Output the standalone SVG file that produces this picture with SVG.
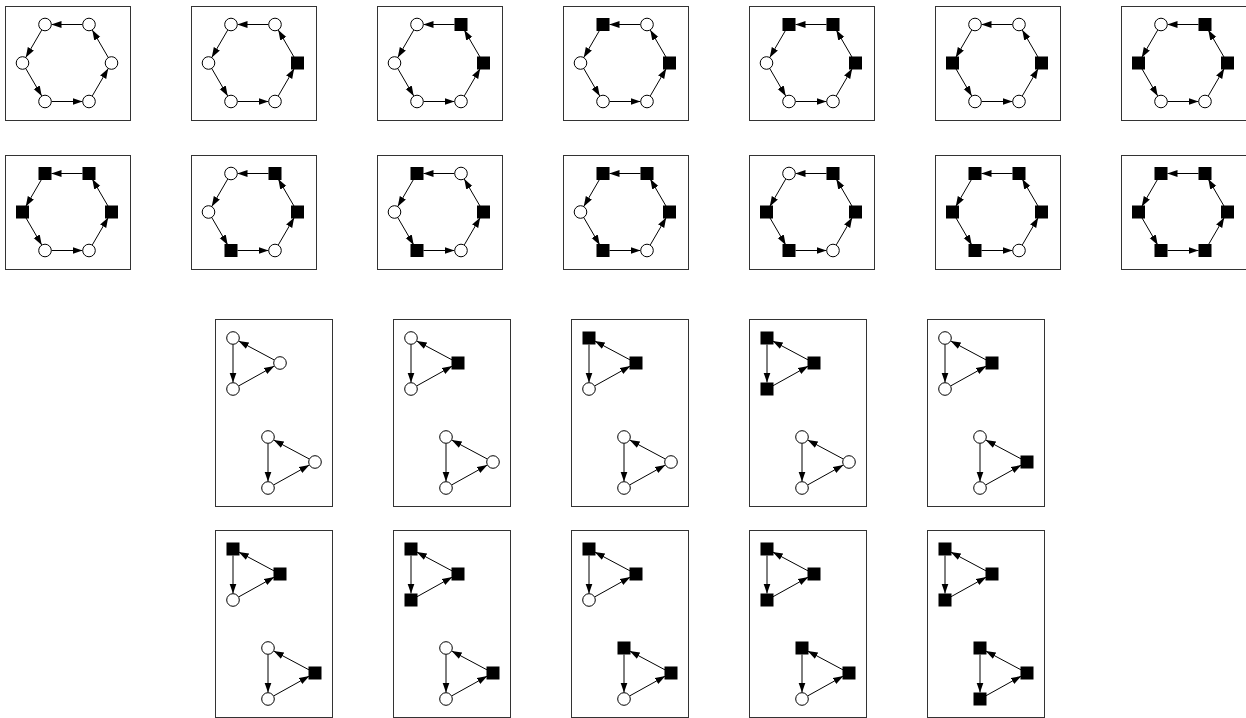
<svg xmlns="http://www.w3.org/2000/svg" xmlns:xlink="http://www.w3.org/1999/xlink" width="1246" height="718" viewBox="0 0 1246 718">
<style>
.box{fill:none;stroke:#333;stroke-width:1}
.e{stroke:#000;stroke-width:1;fill:none;marker-end:url(#ah)}
.cn{fill:#fff;stroke:#000;stroke-width:1}
.sq{fill:#000;stroke:none}
</style>
<defs>
<marker id="ah" markerUnits="userSpaceOnUse" markerWidth="10" markerHeight="8" refX="10" refY="4" orient="auto"><path d="M0,0.5 L10,4 L0,7.5 z" fill="#000"/></marker>
<circle id="c" class="cn" r="6.3"/>
<rect id="s" class="sq" x="-6.5" y="-6.5" width="13" height="13"/>
<g id="hexE">
<line class="e" x1="15.5" y1="-38.5" x2="-15.5" y2="-38.5"/>
<line class="e" x1="-25.3" y1="-32.9" x2="-41.2" y2="-5.6"/>
<line class="e" x1="-41.2" y1="5.6" x2="-25.3" y2="32.9"/>
<line class="e" x1="-15.5" y1="38.5" x2="15.5" y2="38.5"/>
<line class="e" x1="25.3" y1="32.9" x2="41.2" y2="5.6"/>
<line class="e" x1="41.2" y1="-5.6" x2="25.3" y2="-32.9"/>
</g>
<g id="triE">
<line class="e" x1="0" y1="6.5" x2="0" y2="44.5"/>
<line class="e" x1="5.7" y1="47.9" x2="41.3" y2="28.1"/>
<line class="e" x1="41.3" y1="22" x2="5.7" y2="3"/>
</g>
</defs>
<rect width="1246" height="718" fill="#fff"/>

<!-- ===== Row 1 hexagons ===== -->
<g id="h1" transform="translate(5,6)"><rect class="box" x="0.5" y="0.5" width="125" height="114"/><g transform="translate(62,57)">
<g class="connectors"><use href="#hexE"/></g>
<g id="h1-TL"><use href="#c" x="-22" y="-38.5"/></g><g id="h1-TR"><use href="#c" x="22" y="-38.5"/></g><g id="h1-R"><use href="#c" x="44.5" y="0"/></g><g id="h1-BR"><use href="#c" x="22" y="38.5"/></g><g id="h1-BL"><use href="#c" x="-22" y="38.5"/></g><g id="h1-L"><use href="#c" x="-44.5" y="0"/></g>
</g></g>
<g id="h2" transform="translate(191,6)"><rect class="box" x="0.5" y="0.5" width="125" height="114"/><g transform="translate(62,57)">
<g class="connectors"><use href="#hexE"/></g>
<g id="h2-TL"><use href="#c" x="-22" y="-38.5"/></g><g id="h2-TR"><use href="#c" x="22" y="-38.5"/></g><g id="h2-R"><use href="#s" x="44.5" y="0"/></g><g id="h2-BR"><use href="#c" x="22" y="38.5"/></g><g id="h2-BL"><use href="#c" x="-22" y="38.5"/></g><g id="h2-L"><use href="#c" x="-44.5" y="0"/></g>
</g></g>
<g id="h3" transform="translate(377,6)"><rect class="box" x="0.5" y="0.5" width="125" height="114"/><g transform="translate(62,57)">
<g class="connectors"><use href="#hexE"/></g>
<g id="h3-TL"><use href="#c" x="-22" y="-38.5"/></g><g id="h3-TR"><use href="#s" x="22" y="-38.5"/></g><g id="h3-R"><use href="#s" x="44.5" y="0"/></g><g id="h3-BR"><use href="#c" x="22" y="38.5"/></g><g id="h3-BL"><use href="#c" x="-22" y="38.5"/></g><g id="h3-L"><use href="#c" x="-44.5" y="0"/></g>
</g></g>
<g id="h4" transform="translate(563,6)"><rect class="box" x="0.5" y="0.5" width="125" height="114"/><g transform="translate(62,57)">
<g class="connectors"><use href="#hexE"/></g>
<g id="h4-TL"><use href="#s" x="-22" y="-38.5"/></g><g id="h4-TR"><use href="#c" x="22" y="-38.5"/></g><g id="h4-R"><use href="#s" x="44.5" y="0"/></g><g id="h4-BR"><use href="#c" x="22" y="38.5"/></g><g id="h4-BL"><use href="#c" x="-22" y="38.5"/></g><g id="h4-L"><use href="#c" x="-44.5" y="0"/></g>
</g></g>
<g id="h5" transform="translate(749,6)"><rect class="box" x="0.5" y="0.5" width="125" height="114"/><g transform="translate(62,57)">
<g class="connectors"><use href="#hexE"/></g>
<g id="h5-TL"><use href="#s" x="-22" y="-38.5"/></g><g id="h5-TR"><use href="#s" x="22" y="-38.5"/></g><g id="h5-R"><use href="#s" x="44.5" y="0"/></g><g id="h5-BR"><use href="#c" x="22" y="38.5"/></g><g id="h5-BL"><use href="#c" x="-22" y="38.5"/></g><g id="h5-L"><use href="#c" x="-44.5" y="0"/></g>
</g></g>
<g id="h6" transform="translate(935,6)"><rect class="box" x="0.5" y="0.5" width="125" height="114"/><g transform="translate(62,57)">
<g class="connectors"><use href="#hexE"/></g>
<g id="h6-TL"><use href="#c" x="-22" y="-38.5"/></g><g id="h6-TR"><use href="#c" x="22" y="-38.5"/></g><g id="h6-R"><use href="#s" x="44.5" y="0"/></g><g id="h6-BR"><use href="#c" x="22" y="38.5"/></g><g id="h6-BL"><use href="#c" x="-22" y="38.5"/></g><g id="h6-L"><use href="#s" x="-44.5" y="0"/></g>
</g></g>
<g id="h7" transform="translate(1121,6)"><rect class="box" x="0.5" y="0.5" width="125" height="114"/><g transform="translate(62,57)">
<g class="connectors"><use href="#hexE"/></g>
<g id="h7-TL"><use href="#c" x="-22" y="-38.5"/></g><g id="h7-TR"><use href="#s" x="22" y="-38.5"/></g><g id="h7-R"><use href="#s" x="44.5" y="0"/></g><g id="h7-BR"><use href="#c" x="22" y="38.5"/></g><g id="h7-BL"><use href="#c" x="-22" y="38.5"/></g><g id="h7-L"><use href="#s" x="-44.5" y="0"/></g>
</g></g>

<!-- ===== Row 2 hexagons ===== -->
<g id="h8" transform="translate(5,155)"><rect class="box" x="0.5" y="0.5" width="125" height="114"/><g transform="translate(62,57)">
<g class="connectors"><use href="#hexE"/></g>
<g id="h8-TL"><use href="#s" x="-22" y="-38.5"/></g><g id="h8-TR"><use href="#s" x="22" y="-38.5"/></g><g id="h8-R"><use href="#s" x="44.5" y="0"/></g><g id="h8-BR"><use href="#c" x="22" y="38.5"/></g><g id="h8-BL"><use href="#c" x="-22" y="38.5"/></g><g id="h8-L"><use href="#s" x="-44.5" y="0"/></g>
</g></g>
<g id="h9" transform="translate(191,155)"><rect class="box" x="0.5" y="0.5" width="125" height="114"/><g transform="translate(62,57)">
<g class="connectors"><use href="#hexE"/></g>
<g id="h9-TL"><use href="#c" x="-22" y="-38.5"/></g><g id="h9-TR"><use href="#s" x="22" y="-38.5"/></g><g id="h9-R"><use href="#s" x="44.5" y="0"/></g><g id="h9-BR"><use href="#c" x="22" y="38.5"/></g><g id="h9-BL"><use href="#s" x="-22" y="38.5"/></g><g id="h9-L"><use href="#c" x="-44.5" y="0"/></g>
</g></g>
<g id="h10" transform="translate(377,155)"><rect class="box" x="0.5" y="0.5" width="125" height="114"/><g transform="translate(62,57)">
<g class="connectors"><use href="#hexE"/></g>
<g id="h10-TL"><use href="#s" x="-22" y="-38.5"/></g><g id="h10-TR"><use href="#c" x="22" y="-38.5"/></g><g id="h10-R"><use href="#s" x="44.5" y="0"/></g><g id="h10-BR"><use href="#c" x="22" y="38.5"/></g><g id="h10-BL"><use href="#s" x="-22" y="38.5"/></g><g id="h10-L"><use href="#c" x="-44.5" y="0"/></g>
</g></g>
<g id="h11" transform="translate(563,155)"><rect class="box" x="0.5" y="0.5" width="125" height="114"/><g transform="translate(62,57)">
<g class="connectors"><use href="#hexE"/></g>
<g id="h11-TL"><use href="#s" x="-22" y="-38.5"/></g><g id="h11-TR"><use href="#s" x="22" y="-38.5"/></g><g id="h11-R"><use href="#s" x="44.5" y="0"/></g><g id="h11-BR"><use href="#c" x="22" y="38.5"/></g><g id="h11-BL"><use href="#s" x="-22" y="38.5"/></g><g id="h11-L"><use href="#c" x="-44.5" y="0"/></g>
</g></g>
<g id="h12" transform="translate(749,155)"><rect class="box" x="0.5" y="0.5" width="125" height="114"/><g transform="translate(62,57)">
<g class="connectors"><use href="#hexE"/></g>
<g id="h12-TL"><use href="#c" x="-22" y="-38.5"/></g><g id="h12-TR"><use href="#s" x="22" y="-38.5"/></g><g id="h12-R"><use href="#s" x="44.5" y="0"/></g><g id="h12-BR"><use href="#c" x="22" y="38.5"/></g><g id="h12-BL"><use href="#s" x="-22" y="38.5"/></g><g id="h12-L"><use href="#s" x="-44.5" y="0"/></g>
</g></g>
<g id="h13" transform="translate(935,155)"><rect class="box" x="0.5" y="0.5" width="125" height="114"/><g transform="translate(62,57)">
<g class="connectors"><use href="#hexE"/></g>
<g id="h13-TL"><use href="#s" x="-22" y="-38.5"/></g><g id="h13-TR"><use href="#s" x="22" y="-38.5"/></g><g id="h13-R"><use href="#s" x="44.5" y="0"/></g><g id="h13-BR"><use href="#c" x="22" y="38.5"/></g><g id="h13-BL"><use href="#s" x="-22" y="38.5"/></g><g id="h13-L"><use href="#s" x="-44.5" y="0"/></g>
</g></g>
<g id="h14" transform="translate(1121,155)"><rect class="box" x="0.5" y="0.5" width="125" height="114"/><g transform="translate(62,57)">
<g class="connectors"><use href="#hexE"/></g>
<g id="h14-TL"><use href="#s" x="-22" y="-38.5"/></g><g id="h14-TR"><use href="#s" x="22" y="-38.5"/></g><g id="h14-R"><use href="#s" x="44.5" y="0"/></g><g id="h14-BR"><use href="#s" x="22" y="38.5"/></g><g id="h14-BL"><use href="#s" x="-22" y="38.5"/></g><g id="h14-L"><use href="#s" x="-44.5" y="0"/></g>
</g></g>

<!-- ===== Row 3 triangle pairs ===== -->
<g id="t1" transform="translate(215,319)"><rect class="box" x="0.5" y="0.5" width="117" height="187"/>
<g transform="translate(18,19)"><g class="connectors"><use href="#triE"/></g><g id="t1-UT"><use href="#c" x="0" y="0"/></g><g id="t1-UB"><use href="#c" x="0" y="51"/></g><g id="t1-UR"><use href="#c" x="47" y="25"/></g></g>
<g transform="translate(53,118)"><g class="connectors"><use href="#triE"/></g><g id="t1-LT"><use href="#c" x="0" y="0"/></g><g id="t1-LB"><use href="#c" x="0" y="51"/></g><g id="t1-LR"><use href="#c" x="47" y="25"/></g></g>
</g>
<g id="t2" transform="translate(393,319)"><rect class="box" x="0.5" y="0.5" width="117" height="187"/>
<g transform="translate(18,19)"><g class="connectors"><use href="#triE"/></g><g id="t2-UT"><use href="#c" x="0" y="0"/></g><g id="t2-UB"><use href="#c" x="0" y="51"/></g><g id="t2-UR"><use href="#s" x="47" y="25"/></g></g>
<g transform="translate(53,118)"><g class="connectors"><use href="#triE"/></g><g id="t2-LT"><use href="#c" x="0" y="0"/></g><g id="t2-LB"><use href="#c" x="0" y="51"/></g><g id="t2-LR"><use href="#c" x="47" y="25"/></g></g>
</g>
<g id="t3" transform="translate(571,319)"><rect class="box" x="0.5" y="0.5" width="117" height="187"/>
<g transform="translate(18,19)"><g class="connectors"><use href="#triE"/></g><g id="t3-UT"><use href="#s" x="0" y="0"/></g><g id="t3-UB"><use href="#c" x="0" y="51"/></g><g id="t3-UR"><use href="#s" x="47" y="25"/></g></g>
<g transform="translate(53,118)"><g class="connectors"><use href="#triE"/></g><g id="t3-LT"><use href="#c" x="0" y="0"/></g><g id="t3-LB"><use href="#c" x="0" y="51"/></g><g id="t3-LR"><use href="#c" x="47" y="25"/></g></g>
</g>
<g id="t4" transform="translate(749,319)"><rect class="box" x="0.5" y="0.5" width="117" height="187"/>
<g transform="translate(18,19)"><g class="connectors"><use href="#triE"/></g><g id="t4-UT"><use href="#s" x="0" y="0"/></g><g id="t4-UB"><use href="#s" x="0" y="51"/></g><g id="t4-UR"><use href="#s" x="47" y="25"/></g></g>
<g transform="translate(53,118)"><g class="connectors"><use href="#triE"/></g><g id="t4-LT"><use href="#c" x="0" y="0"/></g><g id="t4-LB"><use href="#c" x="0" y="51"/></g><g id="t4-LR"><use href="#c" x="47" y="25"/></g></g>
</g>
<g id="t5" transform="translate(927,319)"><rect class="box" x="0.5" y="0.5" width="117" height="187"/>
<g transform="translate(18,19)"><g class="connectors"><use href="#triE"/></g><g id="t5-UT"><use href="#c" x="0" y="0"/></g><g id="t5-UB"><use href="#c" x="0" y="51"/></g><g id="t5-UR"><use href="#s" x="47" y="25"/></g></g>
<g transform="translate(53,118)"><g class="connectors"><use href="#triE"/></g><g id="t5-LT"><use href="#c" x="0" y="0"/></g><g id="t5-LB"><use href="#c" x="0" y="51"/></g><g id="t5-LR"><use href="#s" x="47" y="25"/></g></g>
</g>

<!-- ===== Row 4 triangle pairs ===== -->
<g id="t6" transform="translate(215,530)"><rect class="box" x="0.5" y="0.5" width="117" height="187"/>
<g transform="translate(18,19)"><g class="connectors"><use href="#triE"/></g><g id="t6-UT"><use href="#s" x="0" y="0"/></g><g id="t6-UB"><use href="#c" x="0" y="51"/></g><g id="t6-UR"><use href="#s" x="47" y="25"/></g></g>
<g transform="translate(53,118)"><g class="connectors"><use href="#triE"/></g><g id="t6-LT"><use href="#c" x="0" y="0"/></g><g id="t6-LB"><use href="#c" x="0" y="51"/></g><g id="t6-LR"><use href="#s" x="47" y="25"/></g></g>
</g>
<g id="t7" transform="translate(393,530)"><rect class="box" x="0.5" y="0.5" width="117" height="187"/>
<g transform="translate(18,19)"><g class="connectors"><use href="#triE"/></g><g id="t7-UT"><use href="#s" x="0" y="0"/></g><g id="t7-UB"><use href="#s" x="0" y="51"/></g><g id="t7-UR"><use href="#s" x="47" y="25"/></g></g>
<g transform="translate(53,118)"><g class="connectors"><use href="#triE"/></g><g id="t7-LT"><use href="#c" x="0" y="0"/></g><g id="t7-LB"><use href="#c" x="0" y="51"/></g><g id="t7-LR"><use href="#s" x="47" y="25"/></g></g>
</g>
<g id="t8" transform="translate(571,530)"><rect class="box" x="0.5" y="0.5" width="117" height="187"/>
<g transform="translate(18,19)"><g class="connectors"><use href="#triE"/></g><g id="t8-UT"><use href="#s" x="0" y="0"/></g><g id="t8-UB"><use href="#c" x="0" y="51"/></g><g id="t8-UR"><use href="#s" x="47" y="25"/></g></g>
<g transform="translate(53,118)"><g class="connectors"><use href="#triE"/></g><g id="t8-LT"><use href="#s" x="0" y="0"/></g><g id="t8-LB"><use href="#c" x="0" y="51"/></g><g id="t8-LR"><use href="#s" x="47" y="25"/></g></g>
</g>
<g id="t9" transform="translate(749,530)"><rect class="box" x="0.5" y="0.5" width="117" height="187"/>
<g transform="translate(18,19)"><g class="connectors"><use href="#triE"/></g><g id="t9-UT"><use href="#s" x="0" y="0"/></g><g id="t9-UB"><use href="#s" x="0" y="51"/></g><g id="t9-UR"><use href="#s" x="47" y="25"/></g></g>
<g transform="translate(53,118)"><g class="connectors"><use href="#triE"/></g><g id="t9-LT"><use href="#s" x="0" y="0"/></g><g id="t9-LB"><use href="#c" x="0" y="51"/></g><g id="t9-LR"><use href="#s" x="47" y="25"/></g></g>
</g>
<g id="t10" transform="translate(927,530)"><rect class="box" x="0.5" y="0.5" width="117" height="187"/>
<g transform="translate(18,19)"><g class="connectors"><use href="#triE"/></g><g id="t10-UT"><use href="#s" x="0" y="0"/></g><g id="t10-UB"><use href="#s" x="0" y="51"/></g><g id="t10-UR"><use href="#s" x="47" y="25"/></g></g>
<g transform="translate(53,118)"><g class="connectors"><use href="#triE"/></g><g id="t10-LT"><use href="#s" x="0" y="0"/></g><g id="t10-LB"><use href="#s" x="0" y="51"/></g><g id="t10-LR"><use href="#s" x="47" y="25"/></g></g>
</g>
</svg>
